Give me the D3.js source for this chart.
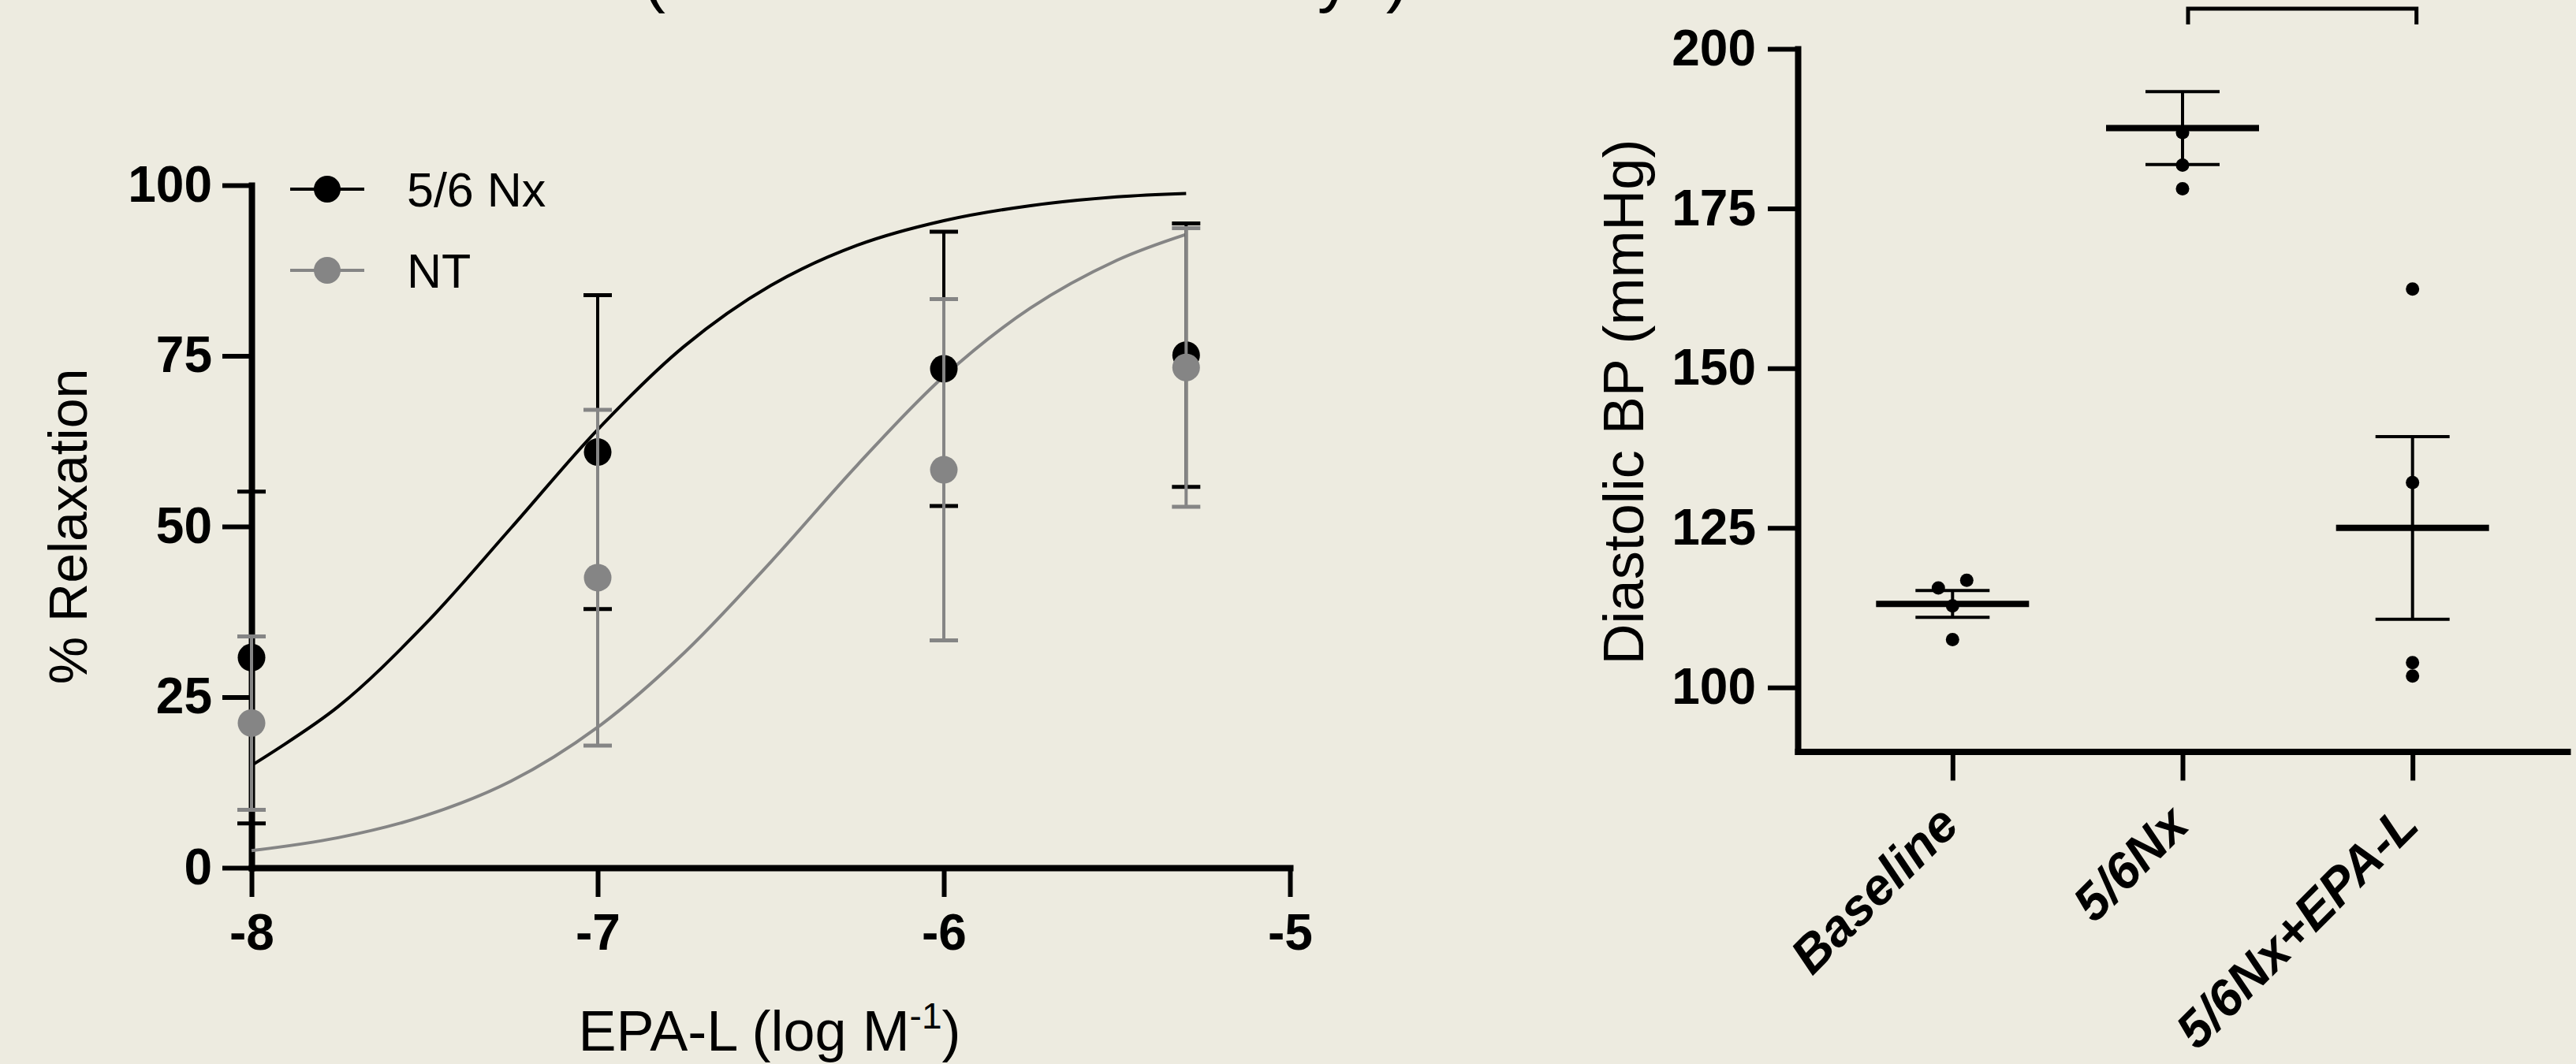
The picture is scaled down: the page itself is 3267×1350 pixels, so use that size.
<!DOCTYPE html>
<html>
<head>
<meta charset="utf-8">
<script src="https://cdn.jsdelivr.net/npm/d3@7"></script>
<style>
  html, body { margin: 0; padding: 0; background: #EDEBE0; }
  svg { display: block; }
  text { font-family: "Liberation Sans", Arial, sans-serif; }
</style>
</head>
<body>
<svg id="chart"></svg>
<script>
// relaxation curves (left panel)
const doses = [-8, -7, -6, -5.3];
const nxMean = [30.8, 60.9, 73.1, 75.1];
const nxErr = [24.3, 23.0, 20.1, 19.3];
const ntMean = [21.2, 42.5, 58.3, 73.3];
const ntErr = [12.7, 24.6, 25.0, 20.4];

// fitted curves
const fitX = [-8, -7.75, -7.5, -7.25, -7, -6.75, -6.5, -6.25, -6, -5.75, -5.5, -5.3];
const nxFit = [15.0, 23.6, 35.6, 49.8, 64.2, 76.4, 85.3, 91.2, 94.8, 97.0, 98.3, 98.8];
const ntFit = [2.5, 4.4, 7.6, 12.7, 20.6, 31.5, 44.8, 59.0, 72.0, 82.0, 89.0, 92.8];

const relaxTicks = [0, 25, 50, 75, 100];
const doseTicks = [-8, -7, -6, -5];
const seriesNames = ["5/6 Nx", "NT"];

// diastolic BP (right panel)
const groups = ["Baseline", "5/6Nx", "5/6Nx+EPA-L"];
const bpBaseline = [115.6, 116.8, 112.8, 107.5];
const bpNx = [186.9, 181.8, 178.1];
const bpNxEpa = [162.4, 132.1, 103.9, 101.8];
const bpMean = [113.1, 187.6, 125.0];
const bpSem = [2.1, 5.7, 14.3];
const bpTicks = [100, 125, 150, 175, 200];

const black = "#000000";
const gray = "#858585";

const width = 3267;
const height = 1350;

const svg = d3.select("#chart")
    .attr("width", width)
    .attr("height", height);

svg.append("rect")
    .attr("width", width)
    .attr("height", height)
    .style("fill", "#EDEBE0");

// title, mostly outside the picture
svg.append("text")
    .attr("x", 815)
    .attr("y", -1)
    .style("font-size", "87px")
    .text("(ex vivo vascular assays)");

// ---------- LEFT PANEL ----------
const xScale = d3.scaleLinear().domain([-8, -5]).range([319, 1636]);
const yScale = d3.scaleLinear().domain([0, 100]).range([1101, 235]);

const left = svg.append("g");

const xAxis = d3.axisBottom(xScale)
    .tickValues(doseTicks)
    .tickFormat(d => d3.format("d")(d).replace("−", "-"))
    .tickSize(37)
    .tickSizeOuter(0)
    .tickPadding(22);

const yAxis = d3.axisLeft(yScale)
    .tickValues(relaxTicks)
    .tickSize(37)
    .tickSizeOuter(0)
    .tickPadding(13);

left.append("g")
    .attr("class", "axis")
    .attr("transform", `translate(0, ${yScale(0)})`)
    .call(xAxis);

left.append("g")
    .attr("class", "axis")
    .attr("transform", `translate(${xScale(-8)}, 0)`)
    .call(yAxis);

// axis titles
left.append("text")
    .attr("transform", `translate(110, 668) rotate(-90)`)
    .attr("text-anchor", "middle")
    .style("font-size", "68px")
    .text("% Relaxation");

const xTitle = left.append("text")
    .attr("x", 976)
    .attr("y", 1333)
    .attr("text-anchor", "middle")
    .style("font-size", "72px");
xTitle.append("tspan").text("EPA-L (log M");
xTitle.append("tspan").attr("dy", -28).style("font-size", "46px").text("-1");
xTitle.append("tspan").attr("dy", 28).text(")");

// fitted curves
const line = d3.line()
    .x((d, i) => xScale(fitX[i]))
    .y(d => yScale(d))
    .curve(d3.curveCatmullRom.alpha(0.5));

left.append("path")
    .datum(nxFit)
    .attr("d", line)
    .style("fill", "none")
    .style("stroke", black)
    .style("stroke-width", 4);

left.append("path")
    .datum(ntFit)
    .attr("d", line)
    .style("fill", "none")
    .style("stroke", gray)
    .style("stroke-width", 4);

function drawSeries(means, errs, color) {
    const pts = doses.map((d, i) => ({ x: d, m: means[i], e: errs[i] }));
    const grp = left.append("g");
    const capHalf = 18;

    grp.selectAll(".err")
        .data(pts)
        .enter()
        .append("line")
        .attr("x1", d => xScale(d.x))
        .attr("x2", d => xScale(d.x))
        .attr("y1", d => yScale(d.m - d.e))
        .attr("y2", d => yScale(d.m + d.e))
        .style("stroke", color)
        .style("stroke-width", 4);

    ["lo", "hi"].forEach(side => {
        grp.selectAll(".cap-" + side)
            .data(pts)
            .enter()
            .append("line")
            .attr("x1", d => xScale(d.x) - capHalf)
            .attr("x2", d => xScale(d.x) + capHalf)
            .attr("y1", d => yScale(side === "lo" ? d.m - d.e : d.m + d.e))
            .attr("y2", d => yScale(side === "lo" ? d.m - d.e : d.m + d.e))
            .style("stroke", color)
            .style("stroke-width", 5);
    });

    grp.selectAll("circle")
        .data(pts)
        .enter()
        .append("circle")
        .attr("cx", d => xScale(d.x))
        .attr("cy", d => yScale(d.m))
        .attr("r", 17.5)
        .style("fill", color);
}

drawSeries(nxMean, nxErr, black);
drawSeries(ntMean, ntErr, gray);

// legend
const legend = left.selectAll(".legend")
    .data(seriesNames)
    .enter()
    .append("g")
    .attr("class", "legend")
    .attr("transform", (d, i) => `translate(415, ${240 + i * 103})`);

legend.append("line")
    .attr("x1", -47)
    .attr("x2", 47)
    .style("stroke", (d, i) => i === 0 ? black : gray)
    .style("stroke-width", 4);

legend.append("circle")
    .attr("r", 17)
    .style("fill", (d, i) => i === 0 ? black : gray);

legend.append("text")
    .attr("x", 101)
    .attr("dy", "0.36em")
    .style("font-size", "61px")
    .text(d => d);

// ---------- RIGHT PANEL ----------
const xCat = d3.scalePoint().domain(groups).range([2280, 3256]).padding(0.673);
const yBP = d3.scaleLinear().domain([90, 200]).range([953.4, 62]);

const right = svg.append("g");

right.append("g")
    .attr("class", "axis")
    .attr("transform", `translate(0, ${yBP(90)})`)
    .call(d3.axisBottom(xCat).tickSize(37).tickSizeOuter(0).tickFormat(""));

right.append("g")
    .attr("class", "axis")
    .attr("transform", `translate(2280, 0)`)
    .call(d3.axisLeft(yBP).tickValues(bpTicks).tickSize(38).tickSizeOuter(0).tickPadding(15));

right.selectAll(".cat-label")
    .data(groups)
    .enter()
    .append("text")
    .attr("class", "cat-label")
    .attr("transform", d => `translate(${xCat(d) + 11}, 1050) rotate(-45)`)
    .attr("text-anchor", "end")
    .style("font-size", "65px")
    .style("font-weight", "bold")
    .style("font-style", "italic")
    .text(d => d);

right.append("text")
    .attr("transform", `translate(2084, 510) rotate(-90)`)
    .attr("text-anchor", "middle")
    .style("font-size", "72px")
    .text("Diastolic BP (mmHg)");

// scatter dots, spread sideways when they would overlap
const bpGroups = [bpBaseline, bpNx, bpNxEpa];
const dotR = 8.5;
bpGroups.forEach((vals, gi) => {
    const cx = xCat(groups[gi]);
    const sorted = vals.slice().sort((a, b) => b - a);
    const rows = [];
    sorted.forEach(v => {
        const last = rows[rows.length - 1];
        if (last && Math.abs(yBP(last[last.length - 1]) - yBP(v)) < dotR * 2) last.push(v);
        else rows.push([v]);
    });
    const placed = [];
    rows.forEach(row => {
        row.slice().sort((a, b) => a - b).forEach((v, i) => {
            placed.push({ x: cx + (i - (row.length - 1) / 2) * 36, y: yBP(v) });
        });
    });
    right.selectAll(".dot-" + gi)
        .data(placed)
        .enter()
        .append("circle")
        .attr("cx", d => d.x)
        .attr("cy", d => d.y)
        .attr("r", dotR)
        .style("fill", black);
});

// mean and SEM
const stats = groups.map((g, i) => ({ g: g, m: bpMean[i], s: bpSem[i] }));

right.selectAll(".sem")
    .data(stats)
    .enter()
    .append("line")
    .attr("x1", d => xCat(d.g))
    .attr("x2", d => xCat(d.g))
    .attr("y1", d => yBP(d.m - d.s))
    .attr("y2", d => yBP(d.m + d.s))
    .style("stroke", black)
    .style("stroke-width", 4);

[-1, 1].forEach(sign => {
    right.selectAll(".semcap" + sign)
        .data(stats)
        .enter()
        .append("line")
        .attr("x1", d => xCat(d.g) - 47)
        .attr("x2", d => xCat(d.g) + 47)
        .attr("y1", d => yBP(d.m + sign * d.s))
        .attr("y2", d => yBP(d.m + sign * d.s))
        .style("stroke", black)
        .style("stroke-width", 4);
});

right.selectAll(".mean")
    .data(stats)
    .enter()
    .append("line")
    .attr("x1", d => xCat(d.g) - 97)
    .attr("x2", d => xCat(d.g) + 97)
    .attr("y1", d => yBP(d.m))
    .attr("y2", d => yBP(d.m))
    .style("stroke", black)
    .style("stroke-width", 8);

// significance bracket (text above is outside the picture)
const bx1 = xCat(groups[1]) + 7;
const bx2 = xCat(groups[2]) + 5;
right.append("path")
    .attr("d", `M${bx1},31 V11 H${bx2} V31`)
    .style("fill", "none")
    .style("stroke", black)
    .style("stroke-width", 5);

// axis styling
svg.selectAll(".axis .domain")
    .style("stroke", black)
    .style("stroke-width", 8)
    .style("stroke-linecap", "square");

svg.selectAll(".axis .tick line")
    .style("stroke", black)
    .style("stroke-width", 6);

svg.selectAll(".axis .tick text")
    .style("fill", black)
    .style("font-size", "64px")
    .style("font-weight", "bold")
    .style("font-family", "'Liberation Sans', Arial, sans-serif");
</script>
</body>
</html>
